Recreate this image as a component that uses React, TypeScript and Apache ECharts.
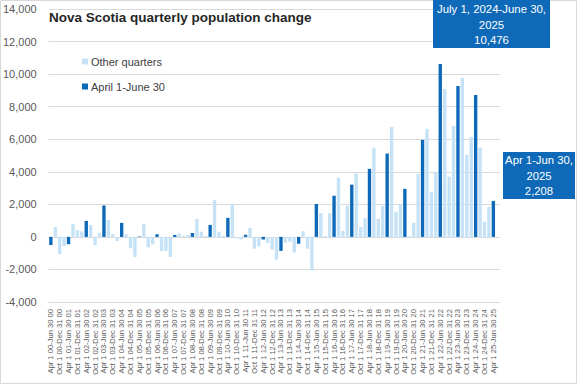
import React, { useEffect, useRef } from "react";
import * as echarts from "echarts";

// Year suffixes and quarter spans used to build the category labels
const yearCodes = ["00","01","02","03","04","05","06","07","08","09","10","11","12","13","14","15","16","17","18","19","20","21","22","23","24","25","26"];
const quarterSpans = ["Apr 1 #-Jun 30 #", "Jul 1 #-Sep 30 #", "Oct 1 #-Dec 31 #", "Jan 1 #-Mar 31 #"];

// Quarterly population change, Apr-Jun 2000 .. Apr-Jun 2025 (rows = Apr,Jul,Oct,Jan)
const quarterlyChange: number[] = [
  -500, 600, -1050, -560,
  -450, 790, 410, 340,
  980, 730, -500, 230,
  1930, 1040, 170, -250,
  860, 160, -700, -1240,
  30, 790, -640, -460,
  160, -860, -860, -1230,
  120, 220, 75, 120,
  240, 1100, 320, 60,
  735, 2260, 320, 70,
  1170, 2020, -90, -160,
  130, 550, -730, -590,
  -160, -370, -780, -1400,
  -860, -360, -290, -960,
  -420, 350, -730, -2060,
  2020, 1460, 50, 1460,
  2530, 3630, 360, 1920,
  3210, 3890, 600, 1160,
  4180, 5470, 1110, 1910,
  5120, 6760, 1540, 2000,
  2950, 50, 860, 3870,
  5960, 6640, 2770, 3990,
  10620, 9090, 3700, 6820,
  9270, 9770, 5040, 6140,
  8720, 5490, 930, 1848,
  2208,
];

const seriesNames = ["Other quarters", "April 1-June 30"];
const yTicks = { min: -4000, max: 14000, interval: 2000 };

const categories: string[] = quarterlyChange.map((_, i) => {
  const y = Math.floor(i / 4);
  const q = i % 4;
  const code = q === 3 ? yearCodes[y + 1] : yearCodes[y];
  return quarterSpans[q].split("#").join(code);
});
categories.push(""); // trailing empty slot of the source plot area

const fmt = (v: number) => {
  const s = Math.abs(Math.round(v)).toString().replace(/\B(?=(\d{3})+(?!\d))/g, ",");
  return (v < 0 ? "-" : "") + s;
};

const DARK = "#0E6AB8";
const LIGHT = "#C5E2F7";
const FONT = "'Liberation Sans', Arial, sans-serif";

export default function App() {
  const ref = useRef<HTMLDivElement>(null);
  useEffect(() => {
    const chart = echarts.init(ref.current!, null, { renderer: "svg" });
    const otherData = quarterlyChange.map((v, i) => (i % 4 !== 0 ? v : null));
    const aprData = quarterlyChange.map((v, i) => (i % 4 === 0 ? v : null));
    otherData.push(null);
    aprData.push(null);
    const n = quarterlyChange.length;
    const lastYearTotal = quarterlyChange.slice(n - 4).reduce((a, b) => a + b, 0);
    const lastQuarter = quarterlyChange[n - 1];

    chart.setOption({
      animation: false,
      backgroundColor: "#ffffff",
      textStyle: { fontFamily: FONT },
      title: {
        text: "Nova Scotia quarterly population change",
        left: 49,
        top: 10,
        padding: 0,
        textStyle: { fontSize: 13.5, fontWeight: "bold", color: "#262626", fontFamily: FONT },
      },
      legend: {
        orient: "vertical",
        left: 82,
        top: 56,
        padding: 0,
        itemGap: 14,
        itemWidth: 6,
        itemHeight: 6,
        icon: "rect",
        data: seriesNames,
        textStyle: { fontSize: 11, color: "#404040", fontFamily: FONT, padding: [0, 0, 0, -2] },
      },
      grid: { left: 48, right: 77, top: 9, bottom: 83, containLabel: false },
      xAxis: {
        type: "category",
        data: categories,
        position: "bottom",
        axisLine: { show: false },
        axisTick: { show: false },
        axisLabel: {
          interval: 1,
          rotate: 90,
          fontSize: 7.6,
          color: "#595959",
          margin: 7,
          fontFamily: FONT,
        },
      },
      yAxis: {
        type: "value",
        min: yTicks.min,
        max: yTicks.max,
        interval: yTicks.interval,
        axisLine: { show: false },
        axisTick: { show: false },
        splitLine: { lineStyle: { color: "#D9D9D9", width: 1 } },
        axisLabel: {
          formatter: (v: number) => fmt(v),
          fontSize: 11,
          color: "#595959",
          margin: 12,
          fontFamily: FONT,
        },
      },
      series: [
        {
          name: seriesNames[0],
          type: "bar",
          data: otherData,
          barWidth: "76%",
          barGap: "-100%",
          itemStyle: { color: LIGHT },
        },
        {
          name: seriesNames[1],
          type: "bar",
          data: aprData,
          barWidth: "76%",
          barGap: "-100%",
          itemStyle: { color: DARK },
        },
      ],
      graphic: [
        {
          type: "rect",
          shape: { x: 0.5, y: 0.5, width: 576, height: 383 },
          style: { fill: "none", stroke: "#D9D9D9", lineWidth: 1 },
          silent: true,
          z: 100,
        },
        {
          type: "rect",
          z: 110,
          shape: { x: 433, y: -2, width: 117, height: 50 },
          style: { fill: DARK },
        },
        {
          type: "text",
          z: 111,
          x: 491.5,
          y: 24.5,
          style: {
            text: "July 1, 2024-June 30,\n2025\n" + fmt(lastYearTotal),
            fill: "#ffffff",
            fontSize: 11.4,
            fontFamily: FONT,
            lineHeight: 15.8,
            align: "center",
            verticalAlign: "middle",
          },
        },
        {
          type: "rect",
          z: 110,
          shape: { x: 503, y: 152, width: 72, height: 47 },
          style: { fill: DARK },
        },
        {
          type: "text",
          z: 111,
          x: 539,
          y: 175.7,
          style: {
            text: "Apr 1-Jun 30,\n2025\n" + fmt(lastQuarter),
            fill: "#ffffff",
            fontSize: 11.3,
            fontFamily: FONT,
            lineHeight: 15.5,
            align: "center",
            verticalAlign: "middle",
          },
        },
      ],
    });
    return () => chart.dispose();
  }, []);
  return (
    <div
      ref={ref}
      style={{ position: "fixed", left: 0, top: 0, width: 577, height: 385, background: "#fff" }}
    />
  );
}
